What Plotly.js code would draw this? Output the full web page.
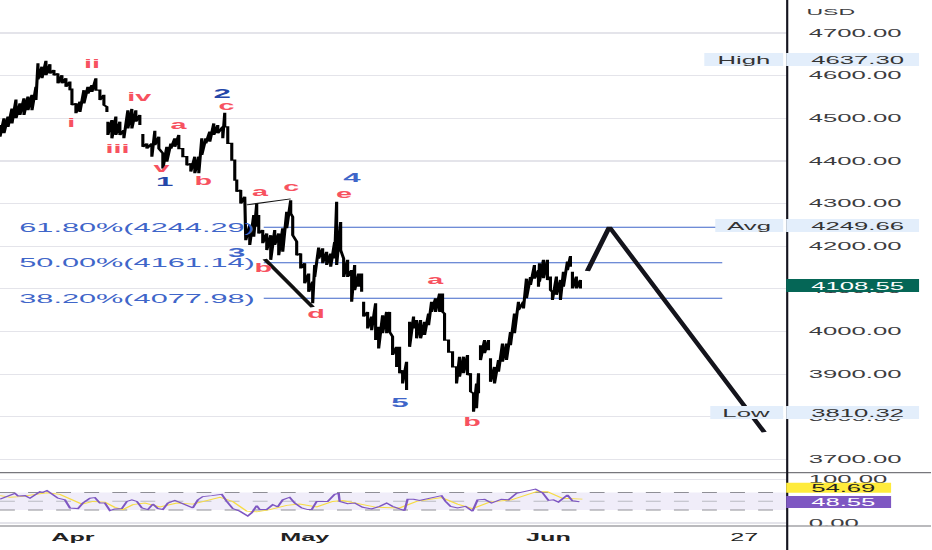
<!DOCTYPE html>
<html>
<head>
<meta charset="utf-8">
<script src="https://cdn.plot.ly/plotly-3.0.1.min.js"></script>
<style>
  html, body { margin: 0; padding: 0; background: #fff; overflow: hidden; }
  #chart { transform-origin: 0 0; }
</style>
</head>
<body>
<div id="chart"></div>
<script>
// bar position on the time axis, session highs and lows; null marks a price gap
const barPos = [
  0,4,8,12,16,20,24,28,32,36,38,42,46,50,54,58,62,66,70,72,76,80,84,88,92,96,100,104,107, null,
  108,112,116,120,124,128,132,136,140, null,
  143,147,152,155,159,163,167,171,175,179,183,187,191,195,199,202,206,210,214,218,223,225,228,232,235,237,241,245,
  246,250,254,257,259,263,267,271,275,279,283,287,291,293,297,301,305,309,313,315,319,323,327,331,335,337,341,344,348,352,355,359,362, null,
  364,368,372,376,379,383,387,390,393,397,400,403,407, null,
  410,414,417,421,425,429,432,436,440,443,445,449,453,457,460,464,468,471,474,477,479, null,
  481,485,489, null,
  491,495,499,503,507,511,515,519,524,527,531,535,539,540,544,548,551,553,557,561,564,568,571, null,
  573,577,581
];
const barHigh = [
  4484,4500,4504,4523,4544,4535,4547,4551,4555,4574,4629,4621,4635,4627,4613,4605,4601,4594,4586,4570,4535,4539,4566,4574,4578,4594,4566,4555,4527, null,
  4492,4496,4504,4492,4472,4519,4522,4519,4508, null,
  4463,4441,4441,4471,4457,4418,4433,4441,4453,4461,4429,4410,4394,4410,4410,4453,4453,4469,4488,4484,4480,4513,4480,4441,4402,4355,4332,4316,
  4257,4250,4273,4300,4273,4238,4230,4226,4238,4230,4242,4281,4308,4269,4211,4183,4160,4136,4117,4156,4197,4195,4187,4183,4210,4304,4257,4171,4168,4144,4156,4136,4136, null,
  4070,4046,4035,4066,4011,4038,4046,4046,3988,3964,3964,3909,3929, null,
  4023,4035,4027,4027,4023,4042,4070,4078,4089,4089,4042,3980,3952,3917,3941,3941,3945,3902,3855,3878,3902, null,
  3968,3980,3980, null,
  3937,3917,3933,3972,3972,3999,4042,4070,4070,4124,4128,4156,4144,4160,4168,4168,4129,4093,4129,4121,4140,4164,4177, null,
  4140,4129,4121
];
const barLow = [
  4457,4465,4480,4488,4500,4508,4508,4519,4519,4543,4591,4594,4601,4605,4601,4582,4582,4574,4566,4531,4512,4515,4535,4558,4562,4566,4543,4531,4515, null,
  4461,4453,4461,4461,4453,4476,4476,4492,4484, null,
  4433,4429,4410,4437,4429,4382,4398,4429,4433,4429,4410,4390,4375,4371,4371,4414,4441,4445,4461,4465,4453,4480,4441,4402,4355,4328,4300,4269,
  4214,4203,4222,4246,4230,4207,4191,4168,4203,4179,4187,4242,4277,4226,4179,4148,4113,4093,4066,4128,4171,4160,4156,4152,4171,4156,4191,4128,4128,4070,4097,4105,4093, null,
  4035,4007,4003,3980,3960,3996,3996,3999,3945,3917,3902,3878,3863, null,
  3964,4007,3984,3984,3992,4015,4046,4046,4046,4046,3980,3952,3917,3878,3894,3902,3898,3859,3812,3820,3855, null,
  3933,3949,3956, null,
  3882,3878,3906,3929,3933,3968,3996,4050,4054,4078,4109,4124,4105,4117,4125,4121,4097,4074,4086,4074,4105,4144,4152, null,
  4101,4101,4101
];

// RSI pane
const rsiPos = [0,5,10,15,18,25,30,35,40,43,47,52,58,65,70,78,83,90,95,100,105,110,115,122,127,132,137,142,148,153,158,163,168,175,182,188,193,198,203,212,222,227,233,240,248,252,257,260,267,273,278,283,290,295,302,308,312,317,322,328,335,339,340,348,355,363,372,380,387,393,400,405,408,414,420,431,442,446,451,458,466,473,478,485,492,502,509,517,526,536,543,549,554,559,568,573,580];
const rsiValues = [54.4,58.9,64.1,67.8,61.9,62.6,56.7,64.1,71.5,70,74.4,66.3,56.7,53,34.4,33,45.6,56.7,58.1,45.6,45.6,28.5,32.2,33,49.3,53,49.3,34.4,30.7,43.3,33,30.7,45.6,51.5,45.6,39.6,34.4,53,60.4,62.6,65.6,49.3,33,27,15.9,23.3,39.6,30.7,30.7,41.9,36.7,53,58.9,45.6,34.4,30.7,30.7,49.3,49.3,49.3,65.6,67.8,49.3,44.1,45.6,35.9,32.2,38.1,45.6,38.1,32.2,28.5,54.4,54.4,51.5,56.7,62.6,49.3,38.1,34.4,38.1,27,53,54.4,45.6,54.4,53,67.8,73,77.4,69.3,51.5,53,47.8,64.1,50.7,48.55];
const rsiMaPos = [0,10,20,33,47,60,70,82,93,105,115,123,133,145,160,177,193,207,220,233,247,257,270,287,300,317,333,343,360,377,400,417,442,458,473,490,512,537,548,563,583];
const rsiMaValues = [62.6,58.9,60.4,64.1,69.3,65.6,54.4,43.3,49.3,47.8,35.9,30.7,41.9,45.6,36.7,45.6,43.3,51.5,58.9,49.3,27,25.6,30.7,40.4,43.3,36.7,49.3,51.5,43.3,35.9,34.4,49.3,58.1,43.3,33,47.8,53,71.5,71.5,56.7,54.69];
const rsiLevels = [70, 50, 30];

// fibonacci retracement
const fibLabels = ['61.80%(4244.29)', '50.00%(4161.14)', '38.20%(4077.98)'];
const fibLevels = [4244.29, 4161.14, 4077.98];

// drawn trend lines
const topLineX = [247, 291];
const topLineY = [4297, 4311];
const dropLineX = [265, 313];
const dropLineY = [4170, 4057];
const forecastX = [588, 610, 765];
const forecastY = [4142, 4245, 3764];

// wave counts
const redWaveText = ['i','ii','iii','iv','v','a','b','c','a','c','b','d','e','a','b'];
const redWaveX = [72,92,117,139,162,180,204,228,261,293,264,317,345,435,472];
const redWaveY = [4489,4627,4428,4550,4383,4484,4353,4529,4327,4339,4149,4041,4322,4121,3788];
const darkWaveText = ['1','2'];
const darkWaveX = [164,223];
const darkWaveY = [4351,4559];
const blueWaveText = ['3','4','5'];
const blueWaveX = [237,353,400];
const blueWaveY = [4186,4362,3833];

// axis labels
const priceTicks = [3700,3800,3900,4000,4100,4200,4300,4400,4500,4600,4700];
const priceTickText = priceTicks.map(v => v.toFixed(2));
const rsiTicks = [0, 100];
const rsiTickText = ['0.00', '100.00'];
const timeTicks = [73, 305, 549, 745];
const timeTickText = ['<b>Apr</b>', '<b>May</b>', '<b>Jun</b>', '27'];

const STRETCH = 2.4;
const W = 932, H = 550, AXIS_X = 788, PLOT_H = 526;
const font = 'Liberation Sans, Arial, sans-serif';
const bgGrid = '#e4e4ea';
const blue = '#3f66c9';

const chart = document.getElementById('chart');
chart.style.transform = 'scaleX(' + STRETCH + ')';

const px = x => x / AXIS_X;
const py = y => (PLOT_H - y) / PLOT_H;

// high/low of every bar as one vertical stroke
const priceX = [], priceY = [];
barPos.forEach((p, i) => {
  if (p === null) { priceX.push(null); priceY.push(null); return; }
  priceX.push(p, p);
  priceY.push(barHigh[i], barLow[i]);
});

const traces = [];
fibLevels.forEach(level => {
  traces.push({ x: [264, 723], y: [level, level], mode: 'lines', line: { color: blue, width: 1 }, hoverinfo: 'skip' });
});
rsiLevels.forEach(level => {
  traces.push({
    x: [0, AXIS_X], y: [level, level], yaxis: 'y2', mode: 'lines',
    line: { color: level === 50 ? '#b9bac2' : '#8f8f96', width: 1, dash: '6.2px,5.5px' }, hoverinfo: 'skip'
  });
});
traces.push({ x: priceX, y: priceY, mode: 'lines', line: { color: '#000', width: 1.3 }, connectgaps: false, hoverinfo: 'skip' });
traces.push({ x: topLineX, y: topLineY, mode: 'lines', line: { color: '#111', width: 1 }, hoverinfo: 'skip' });
traces.push({ x: dropLineX, y: dropLineY, mode: 'lines', line: { color: '#111', width: 2 }, hoverinfo: 'skip' });
traces.push({ x: forecastX, y: forecastY, mode: 'lines', line: { color: '#14141c', width: 2.2, simplify: false }, hoverinfo: 'skip' });
traces.push({ x: rsiMaPos, y: rsiMaValues, yaxis: 'y2', mode: 'lines', line: { color: '#f7dc45', width: 0.9 }, hoverinfo: 'skip' });
traces.push({ x: rsiPos, y: rsiValues, yaxis: 'y2', mode: 'lines', line: { color: '#7e57c2', width: 1 }, hoverinfo: 'skip' });

const annotations = [];
function waveLabels(texts, xs, ys, color, size) {
  texts.forEach((t, i) => annotations.push({
    x: xs[i], y: ys[i], xref: 'x', yref: 'y', xanchor: 'center', yanchor: 'middle', text: '<b>' + t + '</b>', showarrow: false,
    font: { family: font, size: size, color: color }
  }));
}
waveLabels(redWaveText, redWaveX, redWaveY, '#f7525f', 12);
waveLabels(darkWaveText, darkWaveX, darkWaveY, '#2446a8', 13);
waveLabels(blueWaveText, blueWaveX, blueWaveY, '#3f66c9', 13);

fibLabels.forEach((t, i) => annotations.push({
  x: 14, y: fibLevels[i], xref: 'x', yref: 'y', xanchor: 'left', yanchor: 'middle', text: t, showarrow: false,
  font: { family: font, size: 12.8, color: blue }
}));

annotations.push({
  x: px(832), y: py(11), xref: 'paper', yref: 'paper', xanchor: 'center', yanchor: 'middle', text: 'USD', showarrow: false,
  font: { family: font, size: 9.6, color: '#3c3c40' }
});

const shapes = [
  // RSI band
  { type: 'rect', xref: 'paper', yref: 'y2', x0: 0, x1: 1, y0: 30, y1: 70, fillcolor: '#f0edf9', line: { width: 0 }, layer: 'below' },
  // cuts the 0.00 label at the pane edge
  { type: 'rect', xref: 'paper', yref: 'paper', x0: 1, x1: px(W), y0: py(H), y1: py(526), fillcolor: '#fff', line: { width: 0 } },
  { type: 'line', xref: 'paper', yref: 'paper', x0: 0, x1: px(W), y0: py(472.7), y1: py(472.7), line: { color: '#77777c', width: 1.2 } },
  { type: 'line', xref: 'paper', yref: 'paper', x0: 0, x1: px(W), y0: py(526), y1: py(526), line: { color: '#77777c', width: 1.2 } },
  { type: 'line', xref: 'paper', yref: 'paper', x0: 1, x1: 1, y0: py(H), y1: 1, line: { color: '#15151f', width: 0.9 } }
];

function badgeBox(x0, x1, top, bottom, fill) {
  shapes.push({
    type: 'rect', xref: 'paper', yref: 'paper', x0: px(x0), x1: px(x1), y0: py(bottom), y1: py(top),
    fillcolor: fill, line: { width: 0 }
  });
}
function badgeText(text, x, y, color) {
  annotations.push({
    x: px(x), y: py(y), xref: 'paper', yref: 'paper', xanchor: 'center', yanchor: 'middle', text: text, showarrow: false,
    font: { family: font, size: 10.7, color: color }
  });
}
function badge(text, x0, x1, textX, top, bottom, fill, color) {
  badgeBox(x0, x1, top, bottom, fill);
  badgeText(text, textX, (top + bottom) / 2, color);
}
const labelBlue = '#e3eefb';
function rangeBadge(name, value, left, nameX, top) {
  badgeBox(784, 787, top, top + 13, '#fff');
  badge(name, left, 784, nameX, top, top + 13, labelBlue, '#333');
  badge(value, 787, 920, 858, top, top + 13, labelBlue, '#333');
}
rangeBadge('High', '4637.30', 705, 745, 53);
rangeBadge('Avg', '4249.66', 716, 749, 219);
rangeBadge('Low', '3810.32', 711, 747, 406);
badge('4108.55', 787, 920, 858, 279, 292, '#056656', '#fff');
badge('54.69', 787, 892, 845, 482.7, 492.7, '#ffeb3b', '#222');
badge('48.55', 787, 892, 845, 496, 508, '#7e57c2', '#fff');

const axisFont = { family: font, size: 10.7, color: '#3c3c40' };
const layout = {
  width: W / STRETCH,
  height: H,
  margin: { l: 0, r: (W - AXIS_X) / STRETCH, t: 0, b: H - PLOT_H, pad: 0 },
  paper_bgcolor: '#fff',
  plot_bgcolor: '#fff',
  showlegend: false,
  xaxis: {
    range: [0, AXIS_X],
    domain: [0, 1],
    anchor: 'y2',
    showgrid: false,
    zeroline: false,
    showline: false,
    ticks: '',
    tickmode: 'array',
    tickvals: timeTicks,
    ticktext: timeTickText,
    tickangle: 0,
    tickfont: { family: font, size: 10.5, color: '#222' },
    ticklabelstandoff: 4,
    fixedrange: true
  },
  yaxis: {
    domain: [py(472.7), 1],
    range: [3668.9, 4777.4],
    side: 'right',
    anchor: 'x',
    tickmode: 'array',
    tickvals: priceTicks,
    ticktext: priceTickText,
    tickfont: axisFont,
    ticklabelstandoff: 8,
    ticks: '',
    gridcolor: bgGrid,
    gridwidth: 1.2,
    zeroline: false,
    showline: false,
    fixedrange: true
  },
  yaxis2: {
    domain: [0, py(473)],
    range: [-6.9, 114.4],
    side: 'right',
    anchor: 'x',
    tickmode: 'array',
    tickvals: rsiTicks,
    ticktext: rsiTickText,
    tickfont: axisFont,
    ticklabelstandoff: 8,
    ticks: '',
    gridcolor: bgGrid,
    gridwidth: 1.2,
    zeroline: false,
    showline: false,
    fixedrange: true
  },
  shapes: shapes,
  annotations: annotations
};

Plotly.newPlot('chart', traces, layout, { displayModeBar: false, staticPlot: true });
</script>
</body>
</html>
